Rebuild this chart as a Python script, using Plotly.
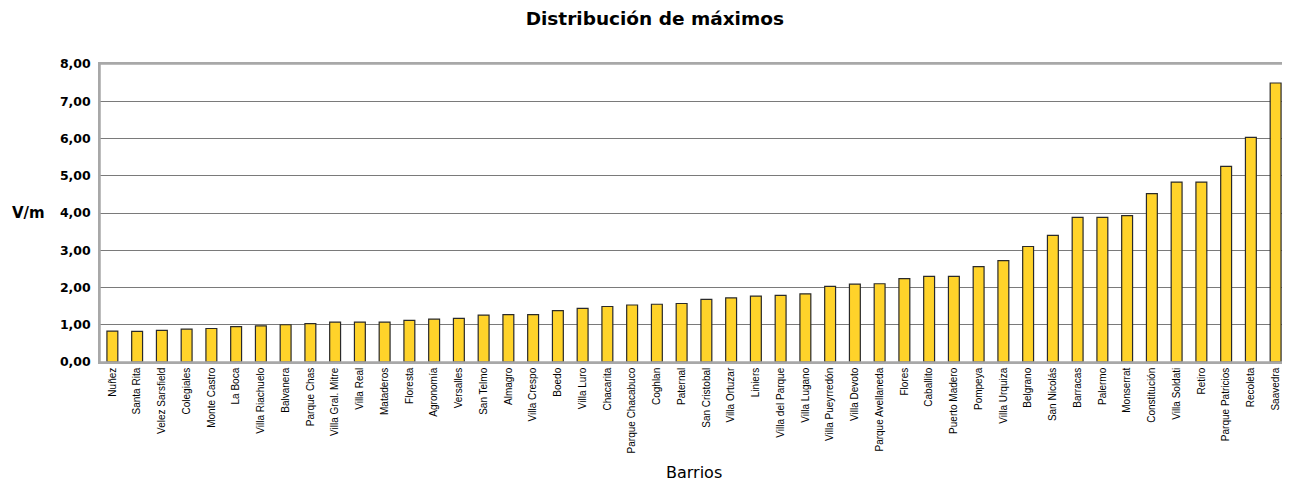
import plotly.graph_objects as go

barrios = ["Nuñez", "Santa Rita", "Velez Sarsfield", "Colegiales", "Monte Castro", "La Boca",
           "Villa Riachuelo", "Balvanera", "Parque Chas", "Villa Gral. Mitre", "Villa Real",
           "Mataderos", "Floresta", "Agronomía", "Versalles", "San Telmo", "Almagro",
           "Villa Crespo", "Boedo", "Villa Luro", "Chacarita", "Parque Chacabuco", "Coghlan",
           "Paternal", "San Cristobal", "Villa Ortuzar", "Liniers", "Villa del Parque",
           "Villa Lugano", "Villa Pueyrredón", "Villa Devoto", "Parque Avellaneda", "Flores",
           "Caballito", "Puerto Madero", "Pompeya", "Villa Urquiza", "Belgrano", "San Nicolás",
           "Barracas", "Palermo", "Monserrat", "Constitución", "Villa Soldati", "Retiro",
           "Parque Patricios", "Recoleta", "Saavedra"]
maximos = [0.83, 0.82, 0.85, 0.88, 0.90, 0.95, 0.97, 1.00, 1.03, 1.07, 1.07, 1.07, 1.12,
           1.15, 1.17, 1.26, 1.27, 1.27, 1.38, 1.44, 1.49, 1.53, 1.55, 1.57, 1.68, 1.72,
           1.77, 1.79, 1.83, 2.03, 2.09, 2.10, 2.24, 2.30, 2.30, 2.56, 2.72, 3.10, 3.40,
           3.88, 3.88, 3.93, 4.52, 4.83, 4.83, 5.25, 6.03, 7.49]

fig = go.Figure(go.Bar(
    x=barrios, y=maximos,
    marker=dict(color="#FFD32A", line=dict(color="#2a2a2a", width=1.2)),
))

# page body has an 8px default margin, so the figure is sized/offset accordingly
fig.update_layout(
    width=1282, height=477,
    margin=dict(l=92, r=2, t=56, b=123, autoexpand=False),
    plot_bgcolor="white", paper_bgcolor="white",
    separators=",.",
    bargap=0.56,
    showlegend=False,
    title=dict(text="<b>Distribución de máximos</b>", x=0.467, xref="paper", xanchor="center",
               y=0.979, yanchor="middle",
               font=dict(family="DejaVu Sans", size=18.5, color="black")),
)
fig.update_yaxes(
    range=[0, 8], dtick=1, tickformat=".2f",
    showgrid=True, gridcolor="#7a7a7a", gridwidth=1,
    showline=True, linecolor="#a8a8a8", linewidth=1.5,
    ticks="outside", ticklen=5, tickcolor="rgba(0,0,0,0)",
    tickfont=dict(family="DejaVu Sans", size=12.5, color="black", weight="bold"),
    zeroline=False,
)
fig.update_xaxes(
    tickangle=-90,
    tickfont=dict(family="Liberation Sans, Arial", size=10, color="black"),
    showline=True, linecolor="#a8a8a8", linewidth=1.5, mirror=True,
    ticks="", range=[-0.5, len(barrios) - 0.5],
)
fig.add_shape(type="rect", xref="paper", yref="paper", x0=0, x1=1, y0=0, y1=1,
              line=dict(color="#a8a8a8", width=1.5), fillcolor="rgba(0,0,0,0)", layer="above")
fig.add_annotation(text="<b>V/m</b>", xref="paper", yref="paper", x=-0.0606, y=0.5,
                   xanchor="center", yanchor="middle", showarrow=False,
                   font=dict(family="DejaVu Sans", size=15, color="black"))
fig.add_annotation(text="Barrios", xref="paper", yref="paper", x=0.5, y=-0.372,
                   xanchor="center", yanchor="middle", showarrow=False,
                   font=dict(family="DejaVu Sans", size=16, color="black"))

fig.write_html("out.html")
